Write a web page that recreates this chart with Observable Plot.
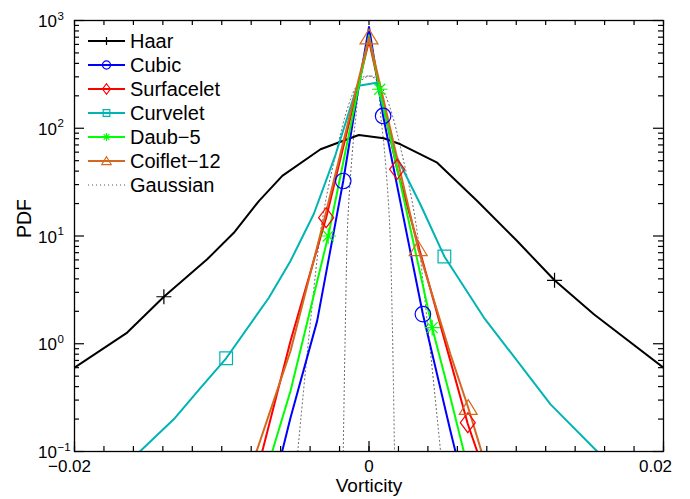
<!DOCTYPE html>
<html><head><meta charset="utf-8">
<script src="https://cdn.jsdelivr.net/npm/d3@7"></script>
<script src="https://cdn.jsdelivr.net/npm/@observablehq/plot@0.6"></script>
<style>
html,body{margin:0;padding:0;background:#fff;}
#wrap{position:relative;width:690px;height:499px;overflow:hidden;}
#wrap svg{position:absolute;left:0;top:0;}
</style></head><body><div id="wrap"></div>
<script>
// ---- data ----
const names = ["Haar", "Cubic", "Surfacelet", "Curvelet", "Daub\u22125", "Coiflet\u221212", "Gaussian"];
const colors = ["#000000", "#0000ff", "#ff0000", "#00b4b4", "#00ff00", "#d2691e", "#555555"];
const markers = ["plus", "circle", "diamond", "square", "asterisk", "triangle", null];
const curves = ["linear", "linear", "linear", "linear", "linear", "linear", "catmull-rom"];

const haarV = [-0.02, -0.01642, -0.01393, -0.01099, -0.00918, -0.00748, -0.00589, -0.00329, -0.00069, 0.001, 0.00214, 0.00463, 0.00735, 0.01006, 0.0126, 0.01527, 0.02];
const haarP = [0.6, 1.27, 2.73, 6.08, 10.7, 21.1, 36.1, 63.8, 86.5, 80.7, 71, 47.9, 21.1, 8.98, 3.88, 1.88, 0.6];
const cubicV = [-0.0059, -0.00533, -0.00352, -0.00175, -0.0009, 0, 0.00096, 0.00366, 0.00553, 0.00587];
const cubicP = [0.1, 0.206, 1.63, 32.4, 167, 871, 130, 1.88, 0.155, 0.1];
const surfV = [-0.00725, -0.00533, -0.00291, 0, 0.00191, 0.00553, 0.00671, 0.00735];
const surfP = [0.1, 1.06, 14.8, 650, 41.6, 0.69, 0.18, 0.1];
const curvV = [-0.01556, -0.01326, -0.01144, -0.0097, -0.0068, -0.00533, -0.00375, -0.00227, -0.0008, 0.00051, 0.0018, 0.0035, 0.00512, 0.0078, 0.01233, 0.0155];
const curvP = [0.1, 0.199, 0.39, 0.733, 2.67, 5.87, 16, 57, 247, 265, 57, 19.5, 6.45, 1.75, 0.274, 0.1];
const daubV = [-0.00657, -0.00533, -0.00277, 0, 0.00073, 0.00429, 0.00553, 0.00644];
const daubP = [0.1, 0.364, 10, 720, 230, 1.41, 0.315, 0.1];
const coifV = [-0.00764, -0.00533, -0.0029, 0, 0.00334, 0.00553, 0.00674, 0.00764];
const coifP = [0.1, 0.857, 17, 700, 7.6, 0.8, 0.255, 0.1];
const gaussOuterV = [-0.00484, -0.00397, -0.00318, -0.00227, -0.00137, -0.0008, 0, 0.00067, 0.00135, 0.00225, 0.00316, 0.00395, 0.00486];
const gaussOuterP = [0.1, 1.63, 13.8, 57, 167, 250, 305, 264, 167, 57, 13.8, 1.63, 0.1];
const gaussInnerV = [-0.00175, -0.0016, -0.00144, -0.00114, -0.00092, -0.00046, 0, 0.00044, 0.00083, 0.00107, 0.00139, 0.00158, 0.00173];
const gaussInnerP = [0.1, 1.63, 13.8, 57.7, 117, 294, 305, 294, 117, 57.7, 13.8, 1.63, 0.1];

// marker positions
const haarMV = [-0.01393, 0.0126], haarMP = [2.73, 3.88];
const cubicMV = [-0.00175, 0.00096, 0.00366], cubicMP = [32.4, 130, 1.88];
const surfMV = [-0.00291, 0.00191, 0.00671], surfMP = [14.8, 41.6, 0.185];
const curvMV = [-0.0097, 0.00512], curvMP = [0.733, 6.45];
const daubMV = [-0.00277, 0.00073, 0.00429], daubMP = [10, 230, 1.41];
const coifMV = [0, 0.00334, 0.00674], coifMP = [700, 7.6, 0.255];

// axes ticks
const xTickVals = [-0.02,-0.018,-0.016,-0.014,-0.012,-0.01,-0.008,-0.006,-0.004,-0.002,0,0.002,0.004,0.006,0.008,0.01,0.012,0.014,0.016,0.018,0.02];
const xTickLabelVals = [-0.02, 0, 0.02];
const xTickLabels = ["\u22120.02", "0", "0.02"];
const xLabelDx = [-5, 0, -8];
const yDecades = [0.1, 1, 10, 100, 1000];
const yExpLabels = ["\u22121", "0", "1", "2", "3"];
const yMinor = [0.2,0.3,0.4,0.5,0.6,0.7,0.8,0.9, 2,3,4,5,6,7,8,9, 20,30,40,50,60,70,80,90, 200,300,400,500,600,700,800,900];

// ---- layout ----
const W = 690, H = 499, ML = 74, MR = 27, MT = 20, MB = 48;
const PW = W - ML - MR, PH = H - MT - MB;
const FONT = "'Liberation Sans', Arial, Helvetica, sans-serif";

// ---- symbols (MATLAB-like) ----
const R = s => Math.sqrt(s / Math.PI);
const sym = {
  plus: {draw(c, s) { const r = R(s) * 0.94; c.moveTo(-r, 0); c.lineTo(r, 0); c.moveTo(0, -r); c.lineTo(0, r); }},
  circle: {draw(c, s) { const r = R(s) * 0.97; c.moveTo(r, 0); c.arc(0, 0, r, 0, 2 * Math.PI); c.closePath(); }},
  diamond: {draw(c, s) { const r = R(s) * 0.94, h = r * 1.33; c.moveTo(0, -h); c.lineTo(r, 0); c.lineTo(0, h); c.lineTo(-r, 0); c.closePath(); }},
  square: {draw(c, s) { const r = R(s) * 0.79; c.moveTo(-r, -r); c.lineTo(r, -r); c.lineTo(r, r); c.lineTo(-r, r); c.closePath(); }},
  asterisk: {draw(c, s) { const r = R(s) * 0.97, d = r * 0.707; c.moveTo(-r, 0); c.lineTo(r, 0); c.moveTo(0, -r); c.lineTo(0, r); c.moveTo(-d, -d); c.lineTo(d, d); c.moveTo(-d, d); c.lineTo(d, -d); }},
  triangle: {draw(c, s) { const r = R(s) * 1.12; c.moveTo(0, -0.9 * r); c.lineTo(r, 0.75 * r); c.lineTo(-r, 0.75 * r); c.closePath(); }}
};

const lineData = [[haarV, haarP], [cubicV, cubicP], [surfV, surfP], [curvV, curvP], [daubV, daubP], [coifV, coifP]];
const markData = [[haarMV, haarMP], [cubicMV, cubicMP], [surfMV, surfMP], [curvMV, curvMP], [daubMV, daubMP], [coifMV, coifMP]];
const toRows = (vs, ps) => vs.map((v, i) => ({v, p: ps[i]}));

const marks = [];
// Gaussian (dotted), drawn first
[[gaussOuterV, gaussOuterP], [gaussInnerV, gaussInnerP]].forEach(([vs, ps]) => {
  marks.push(Plot.line(toRows(vs, ps), {x: "v", y: "p", stroke: colors[6], strokeWidth: 1, strokeDasharray: "1,3", curve: curves[6], clip: true}));
});
lineData.forEach(([vs, ps], i) => {
  marks.push(Plot.line(toRows(vs, ps), {x: "v", y: "p", stroke: colors[i], strokeWidth: 2, curve: curves[i], clip: true}));
});
markData.forEach(([vs, ps], i) => {
  marks.push(Plot.dot(toRows(vs, ps), {x: "v", y: "p", r: 8, symbol: sym[markers[i]], stroke: colors[i], strokeWidth: 1.2, fill: "none"}));
});
// tick marks (inward)
marks.push(
  Plot.tickX(xTickVals, {x: d => d, insetTop: PH - 5, stroke: "black", strokeWidth: 1.2}),
  Plot.tickX(xTickLabelVals, {x: d => d, insetTop: PH - 10, stroke: "black", strokeWidth: 1.2}),
  Plot.tickX(xTickVals, {x: d => d, insetBottom: PH - 5, stroke: "black", strokeWidth: 1.2}),
  Plot.tickY(yDecades, {y: d => d, insetRight: PW - 10, stroke: "black", strokeWidth: 1.2}),
  Plot.tickY(yMinor, {y: d => d, insetRight: PW - 5, stroke: "black", strokeWidth: 1.2}),
  Plot.tickY(yDecades, {y: d => d, insetLeft: PW - 10, stroke: "black", strokeWidth: 1.2}),
  Plot.tickY(yMinor, {y: d => d, insetLeft: PW - 5, stroke: "black", strokeWidth: 1.2}),
  Plot.frame({stroke: "black", strokeWidth: 1.3})
);
// tick labels
xTickLabelVals.forEach((v, i) => {
  marks.push(Plot.text([v], {x: d => d, text: () => xTickLabels[i], frameAnchor: "bottom", lineAnchor: "bottom", dy: 20.5, dx: xLabelDx[i], fontSize: 17, fill: "black"}));
});
marks.push(
  Plot.text(yDecades, {y: d => d, text: () => "10", frameAnchor: "left", textAnchor: "end", lineAnchor: "bottom", dx: -17.5, dy: 6.5, fontSize: 17, fill: "black"}),
  Plot.text(yDecades, {y: d => d, text: (d, i) => yExpLabels[i], frameAnchor: "left", textAnchor: "start", lineAnchor: "bottom", dx: -17, dy: -1, fontSize: 11.5, fill: "black"}),
  Plot.text(["Vorticity"], {text: d => d, frameAnchor: "bottom", lineAnchor: "bottom", dy: 40.5, fontSize: 19, fill: "black"}),
  Plot.text(["PDF"], {text: d => d, frameAnchor: "left", rotate: -90, lineAnchor: "bottom", dx: -44, dy: 2, fontSize: 19.5, fill: "black"})
);

const chart = Plot.plot({
  width: W, height: H,
  marginLeft: ML, marginRight: MR, marginTop: MT, marginBottom: MB,
  x: {domain: [-0.02, 0.02], axis: null},
  y: {type: "log", domain: [0.1, 1000], axis: null},
  style: {fontFamily: FONT, background: "white", color: "black", overflow: "visible"},
  marks
});
document.getElementById("wrap").appendChild(chart);

// ---- legend (inside top-left of the axes) ----
const leg = d3.select("#wrap").append("svg").attr("width", W).attr("height", H)
  .style("font-family", FONT).style("pointer-events", "none");
names.forEach((n, i) => {
  const y = 41 + 24 * i;
  const g = leg.append("g");
  g.append("line").attr("x1", 88).attr("x2", 125).attr("y1", y).attr("y2", y)
    .attr("stroke", colors[i]).attr("stroke-width", i === 6 ? 1 : 2)
    .attr("stroke-dasharray", i === 6 ? "1,3" : null);
  if (markers[i]) {
    g.append("path").attr("d", d3.symbol(sym[markers[i]], Math.PI * 4.2 * 4.2)())
      .attr("transform", `translate(106.5,${y})`).attr("fill", "none")
      .attr("stroke", colors[i]).attr("stroke-width", 1.2);
  }
  g.append("text").attr("x", 130).attr("y", y + 7).attr("font-size", 20).attr("fill", "black").text(n);
});
</script></body></html>
